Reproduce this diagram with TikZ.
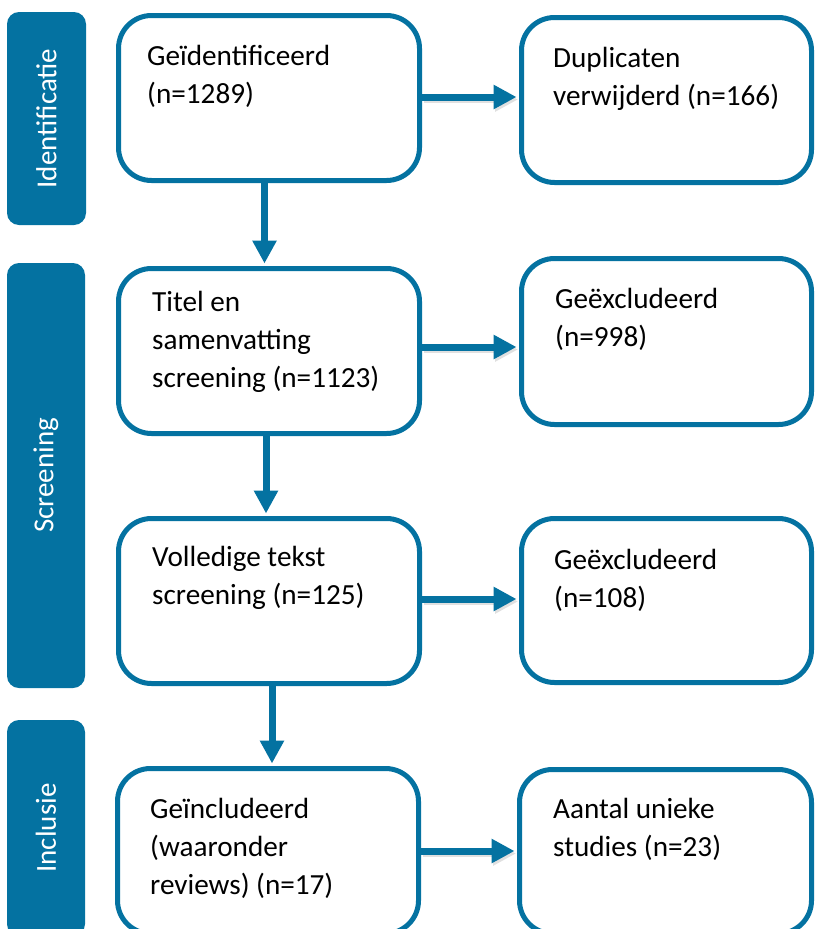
\documentclass[tikz,border=0pt]{standalone}
\usepackage{fontspec}
\setmainfont{Carlito}
\usetikzlibrary{arrows.meta}
\definecolor{prisma}{RGB}{4,114,161}
\newcommand{\boxtext}[1]{\parbox[t]{270pt}{\raggedright #1}}
\begin{document}
\begin{tikzpicture}[x=1pt,y=-1pt,
  box/.style={draw=prisma, line width=5pt, fill=white, rounded corners=33pt, inner sep=0pt},
  phase/.style={fill=prisma, rounded corners=12pt, inner sep=0pt, text=white,
    font=\fontsize{29pt}{35pt}\selectfont},
  txt/.style={anchor=base west, inner sep=0pt,
    font=\fontsize{29.2pt}{38pt}\selectfont},
  arr/.style={draw=prisma, line width=7pt, -{Triangle[width=23pt,length=23pt]}, shorten >=2.5pt},
  shadowarr/.style={draw=black, opacity=0.12, line width=7pt, -{Triangle[width=23pt,length=23pt]}, shorten >=2.5pt}
]
\clip (0,0) rectangle (815,929);
\fill[white] (0,0) rectangle (815,929);

% phase bars
\node[phase, minimum width=79pt, minimum height=213pt] (p1) at (46.5,118.5) {\rotatebox{90}{Identificatie}};
\node[phase, minimum width=78pt, minimum height=425pt] (p2) at (46,475.5) {\rotatebox{90}{Screening}};
\node[phase, minimum width=78pt, minimum height=216pt] (p3) at (46,828) {\rotatebox{90}{Inclusie}};

% boxes
\node[box, minimum width=301pt, minimum height=165pt] (b1) at (269,98) {};
\node[box, minimum width=290pt, minimum height=165pt] (b2) at (666.5,100) {};
\node[box, minimum width=301pt, minimum height=165pt] (b3) at (269,351) {};
\node[box, minimum width=290pt, minimum height=166pt] (b4) at (666.5,341.5) {};
\node[box, minimum width=301pt, minimum height=165pt] (b5) at (269,601) {};
\node[box, minimum width=290pt, minimum height=164pt] (b6) at (666.5,600.5) {};
\node[box, minimum width=301pt, minimum height=165pt] (b7) at (268,851) {};
\node[box, minimum width=292pt, minimum height=164pt] (b8) at (665.5,851.5) {};

% texts
\node[txt] (t1) at (147,65) {\boxtext{Geïdentificeerd\\(n=1289)}};
\node[txt] (t2) at (553,67) {\boxtext{Duplicaten\\verwijderd (n=166)}};
\node[txt] (t3) at (152,311) {\boxtext{Titel en\\samenvatting\\screening (n=1123)}};
\node[txt] (t4) at (555,308) {\boxtext{Geëxcludeerd\\(n=998)}};
\node[txt] (t5) at (152,566) {\boxtext{Volledige tekst\\screening (n=125)}};
\node[txt] (t6) at (554,569) {\boxtext{Geëxcludeerd\\(n=108)}};
\node[txt] (t7) at (150,818) {\boxtext{Geïncludeerd\\(waaronder\\reviews) (n=17)}};
\node[txt] (t8) at (553,818) {\boxtext{Aantal unieke\\studies (n=23)}};

% vertical arrows
\draw[arr] ([xshift=-4.5pt]b1.south) -- ([xshift=-4.5pt]b1.south |- b3.north);
\draw[arr] ([xshift=-3pt]b3.south) -- ([xshift=-3pt]b3.south |- b5.north);
\draw[arr] ([xshift=3pt]b5.south) -- ([xshift=3pt]b5.south |- b7.north);

% horizontal arrows (with soft shadow)
\draw[shadowarr, transform canvas={shift={(1.5pt,-2.5pt)}}] ([yshift=1pt]b1.east) -- ([yshift=1pt]b1.east -| b2.west);
\draw[arr] ([yshift=1pt]b1.east) -- ([yshift=1pt]b1.east -| b2.west);
\draw[shadowarr, transform canvas={shift={(1.5pt,-2.5pt)}}] ([yshift=4pt]b3.east) -- ([yshift=4pt]b3.east -| b4.west);
\draw[arr] ([yshift=4pt]b3.east) -- ([yshift=4pt]b3.east -| b4.west);
\draw[shadowarr, transform canvas={shift={(1.5pt,-2.5pt)}}] ([yshift=2pt]b5.east) -- ([yshift=2pt]b5.east -| b6.west);
\draw[arr] ([yshift=2pt]b5.east) -- ([yshift=2pt]b5.east -| b6.west);
\draw[shadowarr, transform canvas={shift={(1.5pt,-2.5pt)}}] (b7.east) -- (b7.east -| b8.west);
\draw[arr] (b7.east) -- (b7.east -| b8.west);
\end{tikzpicture}
\end{document}
